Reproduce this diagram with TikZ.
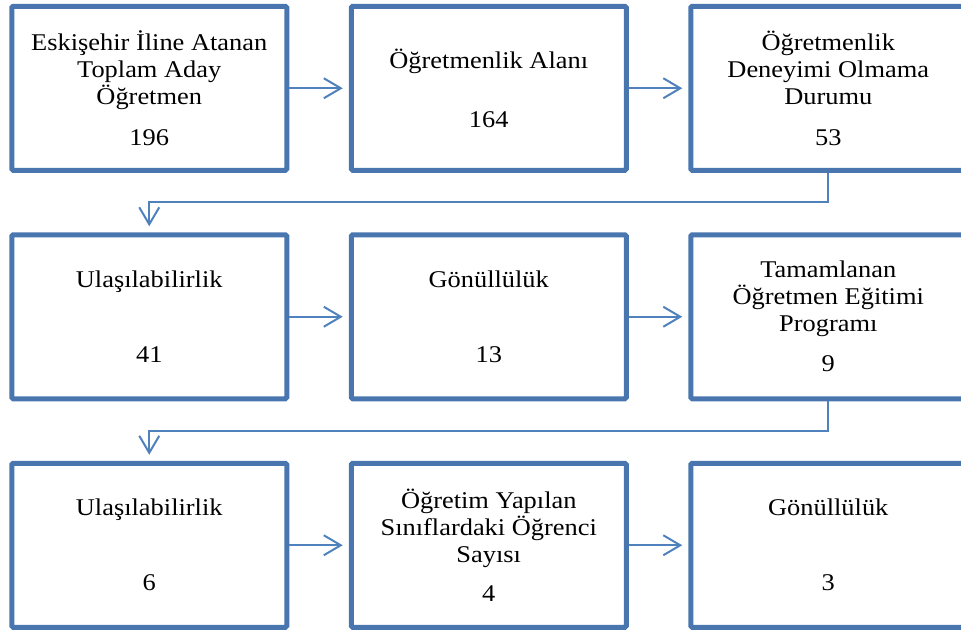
\documentclass[tikz,border=0pt]{standalone}
\usepackage{fontspec}
\setmainfont{Liberation Serif}[FakeStretch=1.1]
\usepackage{xcolor}
\usetikzlibrary{arrows.meta, positioning}
\definecolor{boxblue}{HTML}{4A76B0}
\definecolor{lineblue}{HTML}{4F81BD}

\begin{document}
\begin{tikzpicture}[
  x=1pt, y=-1pt,
  >={Straight Barb[length=17pt, width=20pt]},
  node distance=59.5pt,
  box/.style={draw=boxblue, line width=5pt, rounded corners=1.5pt, minimum width=275pt, minimum height=164pt, align=center, inner sep=0pt, font=\fontsize{24pt}{27pt}\selectfont},
  link/.style={->, draw=lineblue, line width=2pt, shorten >=6pt}
]
\useasboundingbox (0,0) rectangle (961,632);

\node[box] (atanan) at (149.25,88.25) {Eskişehir İline Atanan\\Toplam Aday\\Öğretmen\\[14pt]196};
\node[box] (alan) [right=of atanan] {Öğretmenlik Alanı\\[32pt]164};
\node[box] (deneyim) [right=of alan] {Öğretmenlik\\Deneyimi Olmama\\Durumu\\[14pt]53};

\node[box] (ulas1) [below=of atanan] {Ulaşılabilirlik\\[48pt]41};
\node[box] (gonul1) [right=of ulas1] {Gönüllülük\\[48pt]13};
\node[box] (program) [right=of gonul1] {Tamamlanan\\Öğretmen Eğitimi\\Programı\\[13pt]9};

\node[box] (ulas2) [below=of ulas1] {Ulaşılabilirlik\\[48pt]6};
\node[box] (sinif) [right=of ulas2] {Öğretim Yapılan\\Sınıflardaki Öğrenci\\Sayısı\\[12pt]4};
\node[box] (gonul2) [right=of sinif] {Gönüllülük\\[48pt]3};

\draw[link] (atanan) -- (alan);
\draw[link] (alan) -- (deneyim);
\draw[link] (deneyim.south) -- ++(0,29.5) -| (ulas1.north);
\draw[link] (ulas1) -- (gonul1);
\draw[link] (gonul1) -- (program);
\draw[link] (program.south) -- ++(0,29.5) -| (ulas2.north);
\draw[link] (ulas2) -- (sinif);
\draw[link] (sinif) -- (gonul2);
\end{tikzpicture}
\end{document}
